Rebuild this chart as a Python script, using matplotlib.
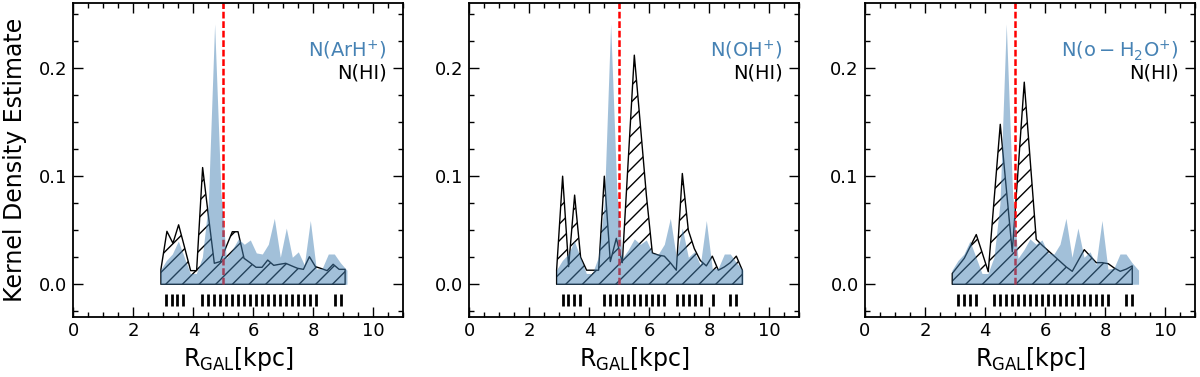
import matplotlib
matplotlib.use("Agg")
import matplotlib.pyplot as plt
from matplotlib.ticker import MultipleLocator

# ---------------- data ----------------
# molecular-ion KDE (blue, same shape in each panel)
R_mol = [2.90, 3.10, 3.30, 3.50, 3.70, 3.90, 4.10, 4.30, 4.50, 4.71, 4.92, 5.10,
         5.30, 5.50, 5.70, 5.90, 6.10, 6.30, 6.50, 6.70, 6.90, 7.10, 7.30, 7.50,
         7.70, 7.90, 8.10, 8.30, 8.50, 8.70, 8.90, 9.12]
kde_mol = [0.013, 0.022, 0.028, 0.040, 0.025, 0.010, 0.010, 0.025, 0.075, 0.241, 0.085, 0.024,
           0.032, 0.042, 0.037, 0.041, 0.029, 0.028, 0.037, 0.061, 0.025, 0.052, 0.025, 0.030,
           0.018, 0.059, 0.014, 0.015, 0.028, 0.028, 0.020, 0.013]

# HI KDE per panel
R_hi_arh = [2.92, 3.12, 3.32, 3.51, 3.71, 3.91, 4.11, 4.31, 4.50, 4.70, 4.90, 5.10,
            5.30, 5.49, 5.69, 5.89, 6.09, 6.29, 6.48, 6.68, 6.88, 7.08, 7.28, 7.47,
            7.67, 7.87, 8.07, 8.27, 8.46, 8.66, 8.86, 9.06]
kde_hi_arh = [0.0138, 0.049, 0.038, 0.055, 0.034, 0.0126, 0.0126, 0.108, 0.064, 0.0194, 0.021, 0.035,
              0.0486, 0.0486, 0.024, 0.020, 0.0157, 0.0157, 0.0224, 0.0175, 0.0185, 0.0194, 0.017, 0.0148,
              0.0138, 0.0255, 0.0163, 0.0145, 0.0126, 0.0185, 0.0138, 0.0138]

R_hi_oh = [2.91, 3.11, 3.31, 3.51, 3.71, 3.91, 4.11, 4.31, 4.50, 4.70, 4.90, 5.10,
           5.30, 5.50, 5.70, 5.90, 6.10, 6.30, 6.50, 6.70, 6.90, 7.10, 7.30, 7.50,
           7.70, 7.90, 8.10, 8.30, 8.50, 8.70, 8.90, 9.10]
kde_hi_oh = [0.0132, 0.100, 0.0163, 0.0825, 0.025, 0.013, 0.013, 0.013, 0.100, 0.021, 0.0425, 0.020,
             0.116, 0.212, 0.148, 0.083, 0.029, 0.027, 0.026, 0.020, 0.013, 0.1025, 0.050, 0.033,
             0.022, 0.017, 0.026, 0.013, 0.016, 0.020, 0.026, 0.013]

R_hi_h2o = [2.91, 3.11, 3.31, 3.51, 3.71, 3.91, 4.11, 4.31, 4.51, 4.71, 4.91, 5.11,
            5.31, 5.51, 5.71, 5.91, 6.11, 6.31, 6.51, 6.71, 6.91, 7.11, 7.31, 7.51,
            7.71, 7.91, 8.11, 8.31, 8.51, 8.71, 8.91]
kde_hi_h2o = [0.010, 0.017, 0.024, 0.035, 0.046, 0.029, 0.0116, 0.080, 0.148, 0.089, 0.030, 0.108,
              0.187, 0.114, 0.0415, 0.036, 0.031, 0.026, 0.021, 0.016, 0.012, 0.022, 0.032, 0.026,
              0.020, 0.020, 0.019, 0.015, 0.012, 0.014, 0.017]

# rug positions (R_GAL of sight-line samples)
rug_arh = [3.09, 3.28, 3.47, 3.67,
           4.30, 4.50, 4.70, 4.90, 5.10, 5.30, 5.50, 5.70, 5.90, 6.10, 6.30, 6.50,
           6.70, 6.90, 7.10, 7.30, 7.50, 7.70, 7.90, 8.10,
           8.72, 8.91]
rug_oh = [3.11, 3.30, 3.50, 3.69,
          4.50, 4.70, 4.90, 5.10, 5.30, 5.50, 5.70, 5.90, 6.10, 6.30, 6.50,
          6.91, 7.11, 7.31, 7.51, 7.71,
          8.11,
          8.69, 8.89]
rug_h2o = [3.11, 3.30, 3.50, 3.70,
           4.31, 4.51, 4.71, 4.91, 5.11, 5.31, 5.51, 5.71, 5.91, 6.11, 6.31, 6.51,
           6.71, 6.91, 7.11, 7.31, 7.51, 7.71, 7.91, 8.11,
           8.70, 8.91]

mol_labels = [r'$\mathrm{N(ArH^{+})}$', r'$\mathrm{N(OH^{+})}$', r'$\mathrm{N(o-H_2O^{+})}$']
hi_label = 'N(HI)'
R_line = 5.0
xticks = [0, 2, 4, 6, 8, 10]
yticks = [0.0, 0.1, 0.2]

panels = [
    (R_hi_arh, kde_hi_arh, rug_arh),
    (R_hi_oh, kde_hi_oh, rug_oh),
    (R_hi_h2o, kde_hi_h2o, rug_h2o),
]

# ---------------- figure ----------------
plt.rcParams['hatch.linewidth'] = 1.0
plt.rcParams['mathtext.fontset'] = 'dejavusans'
fig = plt.figure(figsize=(12, 3.77), dpi=100)
lefts = [0.0611, 0.3911, 0.7208]
blue = 'steelblue'
ylim = (-0.03, 0.26)

for i, (left, (Rh, kh, rug)) in enumerate(zip(lefts, panels)):
    ax = fig.add_axes([left, 0.16, 0.275, 0.8313])
    # HI hatched polygon
    ax.fill_between(Rh, 0, kh, facecolor='none', edgecolor='black',
                    hatch='//', linewidth=1.0, zorder=1)
    # red dashed line (from zero up)
    ax.plot([R_line, R_line], [0, ylim[1]], color='red', linestyle=(0, (2.7, 1.1)),
            linewidth=1.8, zorder=2)
    # molecular KDE
    ax.fill_between(R_mol, 0, kde_mol, color=blue, alpha=0.5, linewidth=0, zorder=3)
    # rug
    ax.plot(rug, [-0.015] * len(rug), linestyle='none', marker='|', color='black',
            markersize=8.5, markeredgewidth=2.0, zorder=4)

    ax.set_xlim(0, 11)
    ax.set_ylim(*ylim)
    ax.set_xticks(xticks)
    ax.set_yticks(yticks)
    ax.set_yticklabels([f'{v:.1f}' for v in yticks])
    ax.xaxis.set_minor_locator(MultipleLocator(0.5))
    ax.yaxis.set_minor_locator(MultipleLocator(0.025))
    ax.tick_params(which='both', direction='in', top=True, right=True, width=1.0)
    ax.tick_params(which='major', length=7, labelsize=13)
    ax.tick_params(which='minor', length=3.5)
    ax.tick_params(axis='y', pad=4.5)
    for sp in ax.spines.values():
        sp.set_linewidth(1.3)

    ax.set_xlabel(r'$\mathrm{R_{GAL}[kpc]}$', fontsize=17, labelpad=4)
    if i == 0:
        ax.set_ylabel('Kernel Density Estimate', fontsize=17, labelpad=8)

    ax.text(0.95, 0.849, mol_labels[i], transform=ax.transAxes, ha='right', va='center',
            fontsize=14, color=blue)
    ax.text(0.95, 0.779, hi_label, transform=ax.transAxes, ha='right', va='center',
            fontsize=14, color='black')

fig.savefig('out.png', dpi=100)
